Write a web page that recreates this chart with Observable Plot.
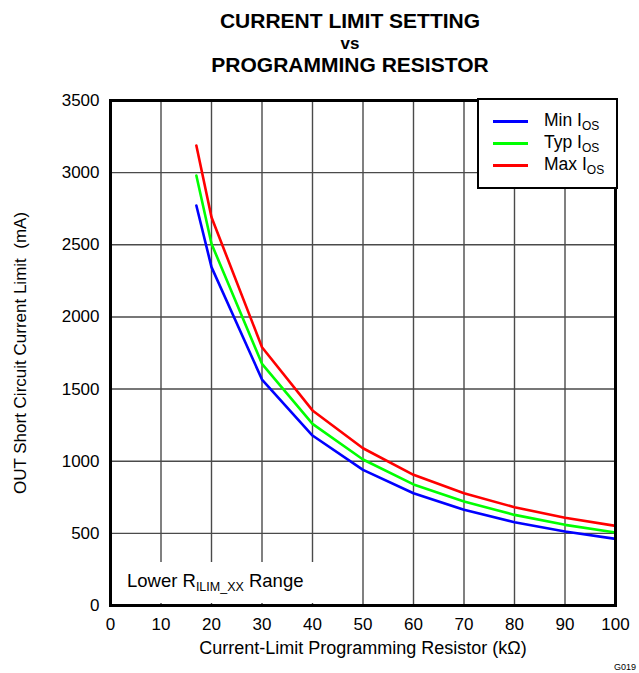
<!DOCTYPE html>
<html>
<head>
<meta charset="utf-8">
<script src="https://cdn.jsdelivr.net/npm/d3@7"></script>
<script src="https://cdn.jsdelivr.net/npm/@observablehq/plot@0.6"></script>
<style>
  body { margin: 0; background: #fff; }
  #wrap { position: relative; width: 639px; height: 673px; font-family: "Liberation Sans", Arial, sans-serif; color: #000; overflow: hidden; }
  #title { position: absolute; top: 10px; left: 61px; right: 0; text-align: center; font-weight: bold; font-size: 21px; line-height: 21px; }
  #title .vs { font-size: 17px; }
  #chart { position: absolute; top: 85px; left: 0; }
  #legend { position: absolute; left: 477px; top: 98px; width: 141px; height: 91px; border: 2px solid #000; background: #fff; padding-top: 10px; box-sizing: border-box; }
  .lrow { display: flex; align-items: center; height: 22.3px; font-size: 17.5px; }
  .lsw { width: 35px; height: 3px; margin-left: 14px; margin-right: 16px; }
  .lrow sub { font-size: 12px; vertical-align: -4px; }
  #note { position: absolute; left: 112px; top: 562px; width: 225px; height: 41px; background: #fff; font-size: 18.5px; }
  #note span.t { position: absolute; left: 15px; top: 8px; white-space: nowrap; }
  #note sub { font-size: 12.5px; vertical-align: -4px; }
  #gid { position: absolute; left: 614px; top: 662px; font-size: 9px; }
</style>
</head>
<body>
<div id="wrap">
  <div id="title">CURRENT LIMIT SETTING<br><span class="vs">vs</span><br>PROGRAMMING RESISTOR</div>
  <div id="chart"></div>
  <div id="legend"></div>
  <div id="note"><span class="t">Lower R<sub>ILIM_XX</sub> Range</span></div>
  <div id="gid">G019</div>
</div>
<script>
// Data
const resistorK = [17, 20, 30, 40, 50, 60, 70, 80, 90, 100];
const minIos = [2772, 2345, 1566, 1178, 940, 778, 663, 577, 513, 462];
const typIos = [2980, 2507, 1675, 1259, 1012, 839, 721, 628, 559, 506];
const maxIos = [3188, 2691, 1790, 1352, 1090, 906, 778, 681, 608, 552];
const seriesNames = ["Min", "Typ", "Max"];
const seriesColors = ["#0000ff", "#00ff00", "#ff0000"];
const xTicks = [0, 10, 20, 30, 40, 50, 60, 70, 80, 90, 100];
const yTicks = [0, 500, 1000, 1500, 2000, 2500, 3000, 3500];

const seriesValues = [minIos, typIos, maxIos];
const rows = [];
seriesNames.forEach((name, i) => {
  resistorK.forEach((r, j) => rows.push({series: name, r, ios: seriesValues[i][j]}));
});

const chart = Plot.plot({
  width: 639,
  height: 588,
  marginTop: 15,
  marginBottom: 68,
  marginLeft: 110,
  marginRight: 24,
  style: {fontFamily: "'Liberation Sans', Arial, sans-serif", fontSize: "17px", color: "#000", background: "#fff"},
  x: {domain: [0, 100]},
  y: {domain: [0, 3500]},
  color: {domain: seriesNames, range: seriesColors},
  marks: [
    Plot.gridX(xTicks.slice(1, -1), {stroke: "#4a4a4a", strokeOpacity: 1, strokeWidth: 1.4}),
    Plot.gridY(yTicks.slice(1, -1), {stroke: "#4a4a4a", strokeOpacity: 1, strokeWidth: 1.4}),
    Plot.line(rows, {x: "r", y: "ios", z: "series", stroke: "series", strokeWidth: 2.6}),
    Plot.frame({stroke: "#000", strokeWidth: 3}),
    Plot.axisX({ticks: xTicks, tickSize: 0, tickPadding: 12, fontSize: 17, tickFormat: d3.format("d"),
      label: null}),
    Plot.text(["Current-Limit Programming Resistor (kΩ)"], {frameAnchor: "bottom", dy: 43, fontSize: 18, lineAnchor: "middle", textAnchor: "middle"}),
    Plot.axisY({ticks: yTicks, tickSize: 0, tickPadding: 11, fontSize: 17, tickFormat: d3.format("d"),
      label: null}),
    Plot.text(["OUT Short Circuit Current Limit  (mA)"], {frameAnchor: "left", dx: -90, rotate: -90, fontSize: 17, lineAnchor: "middle", textAnchor: "middle"})
  ]
});
document.getElementById("chart").appendChild(chart);

const legend = document.getElementById("legend");
seriesNames.forEach((name, i) => {
  const row = document.createElement("div");
  row.className = "lrow";
  row.innerHTML = `<span class="lsw" style="background:${seriesColors[i]}"></span><span>${name} I<sub>OS</sub></span>`;
  legend.appendChild(row);
});
</script>
</body>
</html>
